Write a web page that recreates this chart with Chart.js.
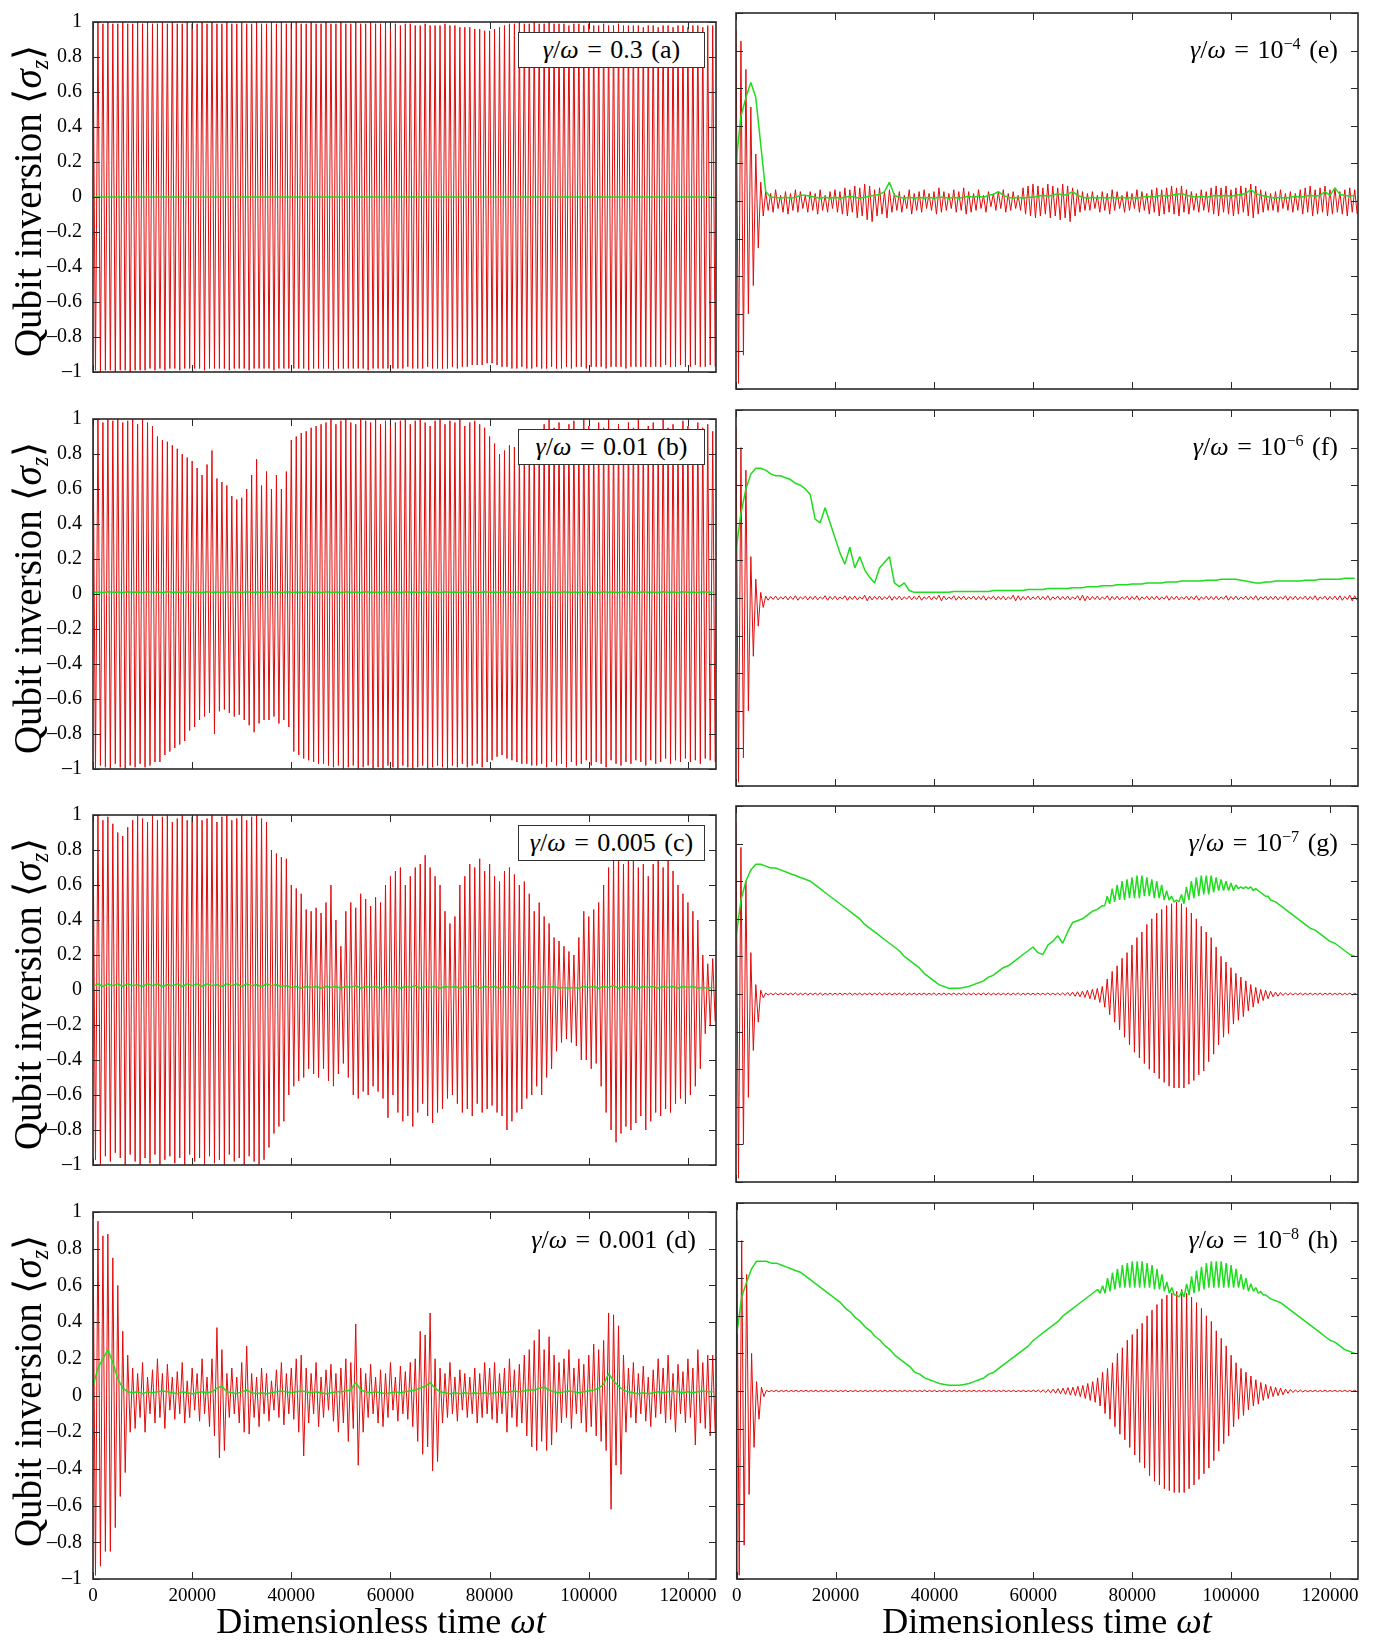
<!DOCTYPE html>
<html><head><meta charset="utf-8">
<script src="https://cdn.jsdelivr.net/npm/chart.js@4.4.1/dist/chart.umd.min.js"></script>
<style>
html,body{margin:0;padding:0;background:#fff;}
body{width:1392px;height:1641px;position:relative;overflow:hidden;font-family:"Liberation Serif","Times New Roman",serif;color:#000;}
canvas{position:absolute;}
.ytitle{position:absolute;width:420px;height:46px;line-height:46px;text-align:center;font-size:39px;white-space:nowrap;transform:rotate(-90deg);}
.xtitle{position:absolute;width:600px;height:36px;line-height:36px;text-align:center;font-size:36px;white-space:nowrap;}
.ann{position:absolute;height:30px;line-height:30px;font-size:26px;white-space:nowrap;text-align:right;word-spacing:2px;}
.box{position:absolute;background:#fff;border:1.5px solid #333;box-sizing:border-box;display:flex;align-items:center;justify-content:center;font-size:26px;white-space:nowrap;word-spacing:2px;}
sub{font-size:0.62em;vertical-align:-0.28em;}
sup{font-size:0.62em;vertical-align:0.55em;line-height:0;}
</style></head><body>
<script>
// ---------------- data ----------------
const xMax = 125664;            // end of the time axis (ωt)
const timeStep = 1000;          // spacing of the sampled envelope values
const xTickValues = [0,20000,40000,60000,80000,100000,120000];
const yTickValues = [-1,-0.8,-0.6,-0.4,-0.2,0,0.2,0.4,0.6,0.8,1];
const panelLetters = ['a','b','c','d','e','f','g','h'];
const leftGammas = ['0.3','0.01','0.005','0.001'];
const rightExponents = ['−4','−6','−7','−8'];

// red trace: upper / lower excursion of the fast oscillation in each 1000-unit slot
const a_redHi = [0.99,1,0.99,1,0.99,0.99,1,0.99,0.99,1,
0.99,1,0.99,0.99,1,0.99,1,0.99,0.99,1,
0.99,0.99,1,0.99,1,0.99,0.99,1,0.99,0.99,
1,0.99,0.99,1,0.99,0.99,1,0.99,1,0.99,
0.99,1,0.99,0.99,1,0.99,0.99,1,0.99,0.99,
1,0.99,0.99,1,0.99,0.99,1,0.99,0.99,1,
0.99,0.99,0.98,0.99,0.99,0.98,0.98,0.99,0.98,0.98,
0.98,0.99,0.98,0.98,0.97,0.97,0.97,0.96,0.96,0.95,
0.95,0.96,0.97,0.98,0.99,0.99,1,0.99,0.99,1,
0.99,0.99,1,0.99,0.99,0.99,0.98,0.99,0.99,0.98,
0.99,0.98,0.98,0.99,0.98,0.98,0.99,0.98,0.98,0.98,
0.98,0.97,0.98,0.98,0.97,0.98,0.98,0.97,0.98,0.98,
0.97,0.98,0.98,0.97,0.98,0.98];
const a_redLo = [-0.99,-1,-0.99,-0.99,-1,-0.99,-0.99,-1,-0.99,-0.99,
-0.99,-0.98,-0.99,-0.98,-0.99,-0.98,-0.98,-0.99,-0.98,-0.98,
-0.98,-0.98,-0.99,-0.98,-0.98,-0.98,-0.98,-0.99,-0.98,-0.98,
-0.98,-0.99,-0.98,-0.98,-0.98,-0.98,-0.99,-0.98,-0.98,-0.98,
-0.98,-0.98,-0.98,-0.99,-0.98,-0.98,-0.98,-0.98,-0.99,-0.98,
-0.98,-0.98,-0.98,-0.98,-0.98,-0.99,-0.98,-0.98,-0.98,-0.98,
-0.98,-0.98,-0.98,-0.97,-0.98,-0.98,-0.98,-0.97,-0.98,-0.98,
-0.98,-0.98,-0.97,-0.98,-0.97,-0.97,-0.96,-0.96,-0.96,-0.95,
-0.95,-0.96,-0.97,-0.97,-0.98,-0.98,-0.97,-0.98,-0.98,-0.97,
-0.98,-0.98,-0.97,-0.98,-0.98,-0.97,-0.98,-0.97,-0.97,-0.98,
-0.97,-0.97,-0.97,-0.98,-0.97,-0.97,-0.97,-0.98,-0.97,-0.97,
-0.97,-0.97,-0.97,-0.97,-0.97,-0.96,-0.97,-0.97,-0.96,-0.97,
-0.97,-0.96,-0.97,-0.97,-0.96,-0.97];
const a_green = [0,0,0,0,0,0,0,0,0,0,
0,0,0,0,0,0,0,0,0,0,
0,0,0,0,0,0,0,0,0,0,
0,0,0,0,0,0,0,0,0,0,
0,0,0,0,0,0,0,0,0,0,
0,0,0,0,0,0,0,0,0,0,
0,0,0,0,0,0,0,0,0,0,
0,0,0,0,0,0,0,0,0,0,
0,0,0,0,0,0,0,0,0,0,
0,0,0,0,0,0,0,0,0,0,
0,0,0,0,0,0,0,0,0,0,
0,0,0,0,0,0,0,0,0,0,
0,0,0,0,0,0];

const b_redHi = [0.99,1,0.98,1,0.99,1,0.98,0.99,1,0.97,
1,0.98,0.96,0.9,0.88,0.87,0.85,0.83,0.8,0.78,
0.76,0.72,0.68,0.74,0.82,0.66,0.64,0.62,0.56,0.54,
0.55,0.6,0.68,0.77,0.62,0.7,0.6,0.68,0.6,0.7,
0.88,0.9,0.92,0.93,0.95,0.96,0.97,0.98,1,0.97,
0.99,1,0.98,0.97,1,0.99,0.98,1,0.97,0.99,
1,0.98,0.99,1,0.97,0.99,1,0.98,0.96,0.99,
1,0.97,0.99,0.98,1,0.96,0.98,0.99,0.97,0.95,
0.9,0.86,0.8,0.82,0.85,0.84,0.86,0.88,0.9,0.92,
0.94,0.97,1,0.95,0.98,0.93,0.97,0.99,0.94,1,
0.96,0.93,0.98,0.95,1,0.94,0.97,0.92,0.98,0.95,
1,0.93,0.96,0.98,0.94,1,0.95,0.97,0.93,0.99,
0.96,0.94,0.98,0.95,0.97,0.93];
const b_redLo = [-1,-0.98,-0.99,-1,-0.97,-0.99,-1,-0.98,-0.99,-0.97,
-0.99,-0.98,-0.96,-0.96,-0.92,-0.9,-0.88,-0.86,-0.84,-0.78,
-0.76,-0.72,-0.7,-0.68,-0.8,-0.67,-0.66,-0.68,-0.7,-0.69,
-0.72,-0.75,-0.79,-0.74,-0.72,-0.72,-0.7,-0.74,-0.72,-0.76,
-0.9,-0.92,-0.94,-0.95,-0.96,-0.97,-0.97,-0.98,-0.99,-0.98,
-1,-0.99,-0.98,-1,-0.99,-0.98,-1,-0.99,-1,-0.98,
-0.99,-1,-0.98,-0.99,-1,-0.99,-0.98,-1,-0.99,-0.98,
-0.99,-1,-0.98,-0.99,-0.97,-0.99,-0.98,-0.97,-0.99,-0.96,
-0.95,-0.93,-0.92,-0.94,-0.95,-0.96,-0.97,-0.97,-0.98,-0.98,
-0.97,-0.99,-0.96,-0.98,-0.97,-0.99,-0.96,-0.98,-0.97,-0.95,
-0.98,-0.96,-0.97,-0.99,-0.95,-0.97,-0.98,-0.96,-0.97,-0.95,
-0.96,-0.98,-0.95,-0.97,-0.96,-0.94,-0.97,-0.95,-0.96,-0.94,
-0.96,-0.95,-0.97,-0.94,-0.95,-0.96];
const b_green = [0.01,0.012,0.009,0.013,0.01,0.012,0.009,0.013,0.01,0.012,
0.009,0.013,0.01,0.012,0.009,0.013,0.01,0.012,0.009,0.013,
0.01,0.012,0.009,0.013,0.01,0.012,0.009,0.013,0.01,0.012,
0.009,0.013,0.01,0.012,0.009,0.013,0.01,0.012,0.009,0.013,
0.01,0.012,0.009,0.013,0.01,0.012,0.009,0.013,0.01,0.012,
0.009,0.013,0.01,0.012,0.009,0.013,0.01,0.012,0.009,0.013,
0.01,0.012,0.009,0.013,0.01,0.012,0.009,0.013,0.01,0.012,
0.009,0.013,0.01,0.012,0.009,0.013,0.01,0.012,0.009,0.013,
0.01,0.012,0.009,0.013,0.01,0.012,0.009,0.013,0.01,0.012,
0.009,0.013,0.01,0.012,0.009,0.013,0.01,0.012,0.009,0.013,
0.01,0.012,0.009,0.013,0.01,0.012,0.009,0.013,0.01,0.012,
0.009,0.013,0.01,0.012,0.009,0.013,0.01,0.012,0.009,0.013,
0.01,0.012,0.009,0.013,0.01,0.012];

const c_redHi = [0.98,1,0.97,0.99,0.95,0.9,0.88,0.93,0.97,1,
0.98,0.96,1,0.97,0.99,1,0.96,0.98,1,0.97,
0.99,1,0.97,0.98,1,0.96,0.99,1,0.97,0.98,
1,0.97,0.99,1,0.98,0.96,0.8,0.78,0.76,0.75,
0.6,0.58,0.55,0.46,0.45,0.47,0.44,0.5,0.6,0.4,
0.25,0.45,0.5,0.47,0.55,0.52,0.48,0.53,0.5,0.6,
0.65,0.68,0.7,0.6,0.65,0.7,0.72,0.77,0.7,0.65,
0.6,0.45,0.38,0.42,0.6,0.65,0.72,0.7,0.75,0.68,
0.72,0.65,0.62,0.68,0.7,0.66,0.6,0.62,0.55,0.45,
0.5,0.42,0.38,0.3,0.28,0.25,0.22,0.2,0.3,0.45,
0.42,0.46,0.5,0.6,0.7,0.75,0.78,0.72,0.8,0.75,
0.7,0.72,0.65,0.72,0.76,0.7,0.75,0.68,0.6,0.55,
0.5,0.45,0.4,0.2,0.15,0.18];
const c_redLo = [-0.97,-1,-0.95,-0.98,-0.93,-0.96,-1,-0.94,-0.98,-1,
-0.96,-0.99,-0.94,-1,-0.97,-0.95,-0.99,-0.96,-1,-0.94,
-0.98,-0.96,-1,-0.95,-0.99,-0.97,-1,-0.94,-0.98,-0.96,
-1,-0.95,-0.98,-1,-0.97,-0.9,-0.82,-0.78,-0.75,-0.6,
-0.55,-0.52,-0.5,-0.45,-0.48,-0.5,-0.45,-0.52,-0.55,-0.48,
-0.42,-0.5,-0.6,-0.62,-0.58,-0.6,-0.55,-0.58,-0.62,-0.73,
-0.6,-0.7,-0.75,-0.72,-0.78,-0.7,-0.65,-0.72,-0.76,-0.7,
-0.68,-0.62,-0.6,-0.65,-0.7,-0.68,-0.72,-0.65,-0.7,-0.68,
-0.66,-0.7,-0.72,-0.8,-0.75,-0.7,-0.68,-0.62,-0.6,-0.55,
-0.6,-0.5,-0.45,-0.35,-0.3,-0.28,-0.3,-0.32,-0.4,-0.4,
-0.45,-0.42,-0.55,-0.7,-0.8,-0.87,-0.82,-0.78,-0.8,-0.76,
-0.72,-0.8,-0.75,-0.7,-0.72,-0.68,-0.7,-0.65,-0.62,-0.65,
-0.6,-0.55,-0.45,-0.25,-0.2,-0.18];
const c_green = [0.02,0.035,0.02,0.035,0.025,0.035,0.02,0.035,0.025,0.03,
0.02,0.035,0.025,0.035,0.02,0.03,0.025,0.035,0.02,0.035,
0.025,0.035,0.02,0.035,0.025,0.03,0.02,0.035,0.025,0.035,
0.02,0.035,0.025,0.03,0.02,0.035,0.025,0.03,0.02,0.025,
0.015,0.02,0.01,0.02,0.015,0.02,0.01,0.02,0.015,0.02,
0.01,0.02,0.015,0.025,0.01,0.02,0.015,0.02,0.01,0.02,
0.015,0.02,0.01,0.02,0.015,0.025,0.01,0.02,0.015,0.02,
0.01,0.02,0.015,0.02,0.01,0.02,0.015,0.025,0.01,0.02,
0.015,0.02,0.01,0.02,0.015,0.02,0.01,0.02,0.015,0.02,
0.01,0.02,0.015,0.02,0.01,0.015,0.01,0.015,0.01,0.02,
0.015,0.02,0.01,0.02,0.015,0.025,0.01,0.02,0.015,0.02,
0.01,0.02,0.015,0.02,0.01,0.02,0.015,0.02,0.01,0.02,
0.015,0.02,0.01,0.015,0.01,0.015];

const d_redHi = [0.95,0.95,0.87,0.88,0.75,0.6,0.35,0.22,0.15,0.12,
0.18,0.1,0.14,0.2,0.12,0.17,0.1,0.13,0.18,0.08,
0.15,0.12,0.2,0.1,0.2,0.37,0.25,0.12,0.15,0.1,
0.18,0.27,0.12,0.1,0.15,0.12,0.08,0.14,0.18,0.12,
0.15,0.2,0.22,0.15,0.12,0.18,0.1,0.14,0.17,0.12,
0.15,0.2,0.18,0.39,0.15,0.12,0.17,0.1,0.14,0.12,
0.18,0.1,0.16,0.13,0.18,0.2,0.35,0.33,0.45,0.2,
0.15,0.12,0.18,0.1,0.14,0.12,0.1,0.15,0.12,0.18,
0.15,0.18,0.12,0.15,0.2,0.14,0.17,0.22,0.25,0.3,
0.36,0.25,0.32,0.22,0.18,0.2,0.25,0.15,0.2,0.17,
0.22,0.28,0.25,0.3,0.45,0.44,0.38,0.22,0.15,0.18,
0.12,0.16,0.1,0.14,0.2,0.15,0.22,0.12,0.17,0.13,
0.2,0.15,0.25,0.18,0.22,0.22];
const d_redLo = [-0.98,-0.93,-0.85,-0.85,-0.72,-0.55,-0.42,-0.2,-0.18,-0.12,
-0.2,-0.1,-0.15,-0.12,-0.18,-0.08,-0.13,-0.1,-0.15,-0.12,
-0.08,-0.14,-0.1,-0.17,-0.22,-0.34,-0.3,-0.12,-0.1,-0.15,
-0.2,-0.21,-0.12,-0.17,-0.1,-0.14,-0.08,-0.12,-0.16,-0.1,
-0.13,-0.2,-0.33,-0.15,-0.1,-0.17,-0.12,-0.08,-0.14,-0.2,
-0.15,-0.25,-0.18,-0.38,-0.2,-0.12,-0.1,-0.15,-0.17,-0.12,
-0.08,-0.14,-0.1,-0.13,-0.17,-0.25,-0.32,-0.28,-0.41,-0.36,
-0.15,-0.12,-0.1,-0.14,-0.08,-0.12,-0.1,-0.15,-0.12,-0.1,
-0.13,-0.15,-0.1,-0.2,-0.12,-0.17,-0.15,-0.22,-0.28,-0.3,
-0.25,-0.3,-0.27,-0.2,-0.15,-0.12,-0.18,-0.1,-0.15,-0.2,
-0.17,-0.22,-0.25,-0.3,-0.62,-0.38,-0.43,-0.2,-0.12,-0.15,
-0.1,-0.14,-0.17,-0.12,-0.1,-0.15,-0.13,-0.2,-0.1,-0.15,
-0.12,-0.27,-0.15,-0.18,-0.22,-0.2];
const d_green = [0.05,0.15,0.2,0.25,0.18,0.09,0.04,0.02,0.015,0.02,
0.01,0.02,0.015,0.02,0.025,0.02,0.015,0.01,0.02,0.015,
0.01,0.015,0.02,0.015,0.02,0.04,0.05,0.02,0.015,0.01,
0.02,0.03,0.015,0.01,0.015,0.01,0.015,0.02,0.025,0.02,
0.015,0.02,0.025,0.02,0.015,0.02,0.015,0.01,0.015,0.02,
0.02,0.025,0.03,0.07,0.03,0.02,0.015,0.02,0.015,0.01,
0.015,0.02,0.015,0.02,0.025,0.03,0.04,0.05,0.07,0.04,
0.02,0.015,0.01,0.015,0.01,0.015,0.01,0.015,0.01,0.015,
0.01,0.015,0.02,0.015,0.02,0.025,0.02,0.025,0.03,0.03,
0.04,0.045,0.03,0.02,0.015,0.02,0.025,0.02,0.015,0.02,
0.025,0.03,0.04,0.06,0.12,0.08,0.05,0.03,0.02,0.015,
0.01,0.015,0.01,0.015,0.02,0.015,0.02,0.025,0.02,0.015,
0.02,0.015,0.02,0.025,0.02,0.02];

const e_redHi = [0.91,0.85,0.7,0.5,0.25,0.1,0.05,0.04,0.06,0.03,
0.05,0.04,0.06,0.05,0.03,0.05,0.04,0.06,0.03,0.05,
0.06,0.05,0.07,0.06,0.08,0.07,0.09,0.08,0.06,0.07,
0.05,0.06,0.04,0.05,0.03,0.06,0.04,0.05,0.06,0.04,
0.05,0.07,0.05,0.04,0.06,0.05,0.07,0.05,0.04,0.06,
0.03,0.05,0.04,0.05,0.06,0.04,0.05,0.03,0.07,0.08,
0.09,0.08,0.07,0.09,0.08,0.07,0.09,0.08,0.07,0.06,
0.05,0.04,0.05,0.03,0.05,0.04,0.06,0.05,0.03,0.05,
0.04,0.06,0.05,0.04,0.06,0.07,0.06,0.07,0.08,0.07,
0.08,0.06,0.05,0.04,0.06,0.05,0.07,0.08,0.07,0.08,
0.06,0.07,0.08,0.07,0.09,0.08,0.06,0.05,0.04,0.05,
0.06,0.04,0.05,0.04,0.06,0.07,0.08,0.06,0.07,0.08,
0.06,0.07,0.05,0.06,0.07,0.06];
const e_redLo = [-0.97,-0.82,-0.6,-0.45,-0.25,-0.08,-0.05,-0.06,-0.04,-0.06,
-0.07,-0.05,-0.06,-0.04,-0.06,-0.05,-0.07,-0.05,-0.06,-0.04,
-0.06,-0.07,-0.08,-0.06,-0.09,-0.08,-0.1,-0.11,-0.08,-0.07,
-0.09,-0.06,-0.05,-0.06,-0.04,-0.07,-0.05,-0.06,-0.04,-0.05,
-0.07,-0.06,-0.05,-0.04,-0.06,-0.05,-0.07,-0.06,-0.05,-0.04,
-0.06,-0.03,-0.05,-0.04,-0.06,-0.05,-0.04,-0.05,-0.07,-0.08,
-0.09,-0.08,-0.07,-0.09,-0.08,-0.1,-0.09,-0.11,-0.08,-0.06,
-0.05,-0.05,-0.04,-0.06,-0.05,-0.07,-0.05,-0.04,-0.06,-0.05,
-0.04,-0.06,-0.05,-0.07,-0.06,-0.08,-0.07,-0.06,-0.07,-0.08,
-0.06,-0.07,-0.05,-0.06,-0.05,-0.06,-0.07,-0.08,-0.06,-0.07,
-0.08,-0.07,-0.06,-0.08,-0.09,-0.07,-0.06,-0.05,-0.05,-0.06,
-0.04,-0.05,-0.06,-0.05,-0.07,-0.06,-0.08,-0.07,-0.06,-0.08,
-0.07,-0.06,-0.07,-0.08,-0.06,-0.07];
const e_green = [0.2,0.45,0.55,0.63,0.55,0.3,0.05,0.02,0.02,0.015,
0.02,0.015,0.02,0.03,0.03,0.025,0.02,0.015,0.02,0.015,
0.02,0.015,0.02,0.025,0.02,0.015,0.02,0.025,0.03,0.035,
0.05,0.1,0.03,0.02,0.015,0.02,0.015,0.02,0.015,0.02,
0.015,0.02,0.02,0.015,0.02,0.015,0.02,0.025,0.02,0.025,
0.02,0.03,0.035,0.05,0.03,0.02,0.015,0.02,0.015,0.02,
0.02,0.025,0.03,0.025,0.03,0.04,0.03,0.035,0.05,0.03,
0.02,0.015,0.02,0.015,0.02,0.015,0.02,0.015,0.02,0.015,
0.02,0.015,0.02,0.025,0.02,0.025,0.03,0.025,0.03,0.035,
0.04,0.03,0.025,0.02,0.025,0.02,0.025,0.03,0.025,0.03,
0.025,0.03,0.035,0.04,0.06,0.04,0.03,0.025,0.02,0.015,
0.02,0.015,0.02,0.025,0.02,0.025,0.03,0.025,0.03,0.05,
0.03,0.07,0.035,0.03,0.025,0.03];

const f_redHi = [0.91,0.8,0.68,0.22,0.1,0.03,0.01,0.008,0.01,0.006,
0.01,0.008,0.012,0.006,0.01,0.008,0.01,0.006,0.012,0.008,
0.01,0.006,0.012,0.008,0.01,0.006,0.015,0.01,0.008,0.01,
0.006,0.012,0.008,0.01,0.006,0.01,0.008,0.012,0.006,0.01,
0.008,0.015,0.01,0.006,0.012,0.008,0.01,0.006,0.01,0.008,
0.012,0.006,0.01,0.008,0.01,0.006,0.015,0.012,0.008,0.01,
0.006,0.01,0.008,0.012,0.006,0.01,0.008,0.01,0.006,0.012,
0.015,0.01,0.008,0.01,0.006,0.012,0.008,0.01,0.006,0.01,
0.008,0.012,0.006,0.01,0.008,0.01,0.006,0.012,0.008,0.01,
0.006,0.01,0.008,0.012,0.006,0.01,0.008,0.01,0.006,0.012,
0.008,0.01,0.006,0.01,0.008,0.012,0.006,0.01,0.008,0.01,
0.006,0.012,0.008,0.01,0.006,0.01,0.008,0.012,0.006,0.01,
0.008,0.01,0.012,0.008,0.015,0.012];
const f_redLo = [-0.98,-0.85,-0.6,-0.31,-0.15,-0.05,-0.012,-0.008,-0.01,-0.006,
-0.01,-0.008,-0.012,-0.006,-0.01,-0.008,-0.01,-0.006,-0.012,-0.008,
-0.01,-0.006,-0.012,-0.008,-0.01,-0.006,-0.015,-0.01,-0.008,-0.01,
-0.006,-0.012,-0.008,-0.01,-0.006,-0.01,-0.008,-0.012,-0.006,-0.01,
-0.008,-0.015,-0.01,-0.006,-0.012,-0.008,-0.01,-0.006,-0.01,-0.008,
-0.012,-0.006,-0.01,-0.008,-0.01,-0.006,-0.015,-0.012,-0.008,-0.01,
-0.006,-0.01,-0.008,-0.012,-0.006,-0.01,-0.008,-0.01,-0.006,-0.012,
-0.015,-0.01,-0.008,-0.01,-0.006,-0.012,-0.008,-0.01,-0.006,-0.01,
-0.008,-0.012,-0.006,-0.01,-0.008,-0.01,-0.006,-0.012,-0.008,-0.01,
-0.006,-0.01,-0.008,-0.012,-0.006,-0.01,-0.008,-0.01,-0.006,-0.012,
-0.008,-0.01,-0.006,-0.01,-0.008,-0.012,-0.006,-0.01,-0.008,-0.01,
-0.006,-0.012,-0.008,-0.01,-0.006,-0.01,-0.008,-0.012,-0.006,-0.01,
-0.008,-0.01,-0.012,-0.008,-0.015,-0.012];
const f_green = [0.25,0.45,0.58,0.66,0.69,0.69,0.68,0.66,0.65,0.65,
0.64,0.63,0.61,0.6,0.58,0.55,0.42,0.4,0.48,0.4,
0.32,0.24,0.18,0.27,0.16,0.22,0.15,0.11,0.08,0.16,
0.19,0.22,0.08,0.06,0.08,0.04,0.03,0.03,0.03,0.03,
0.03,0.03,0.03,0.03,0.035,0.035,0.035,0.035,0.035,0.035,
0.035,0.035,0.04,0.04,0.04,0.04,0.04,0.04,0.04,0.045,
0.045,0.045,0.045,0.05,0.05,0.05,0.05,0.05,0.055,0.055,
0.055,0.06,0.06,0.06,0.065,0.065,0.065,0.07,0.07,0.07,
0.075,0.075,0.075,0.08,0.08,0.08,0.08,0.085,0.085,0.085,
0.09,0.09,0.09,0.09,0.09,0.095,0.095,0.095,0.1,0.1,
0.1,0.1,0.095,0.09,0.085,0.08,0.08,0.085,0.085,0.09,
0.09,0.09,0.09,0.09,0.09,0.095,0.095,0.095,0.1,0.1,
0.1,0.1,0.1,0.105,0.105,0.105];

const g_redHi = [0.91,0.78,0.6,0.22,0.05,0.02,0.005,0.004,0.005,0.004,
0.005,0.004,0.006,0.004,0.005,0.004,0.005,0.006,0.004,0.005,
0.004,0.005,0.004,0.006,0.004,0.005,0.004,0.005,0.004,0.006,
0.004,0.005,0.004,0.005,0.006,0.004,0.005,0.004,0.005,0.004,
0.006,0.004,0.005,0.004,0.005,0.004,0.006,0.004,0.005,0.004,
0.005,0.006,0.004,0.005,0.004,0.005,0.004,0.006,0.004,0.005,
0.004,0.005,0.004,0.005,0.004,0.005,0.006,0.008,0.01,0.012,
0.015,0.02,0.025,0.03,0.04,0.08,0.12,0.15,0.19,0.22,
0.26,0.3,0.33,0.37,0.4,0.43,0.45,0.47,0.48,0.49,
0.48,0.46,0.43,0.4,0.36,0.33,0.3,0.25,0.2,0.17,
0.14,0.11,0.09,0.07,0.05,0.035,0.025,0.02,0.015,0.01,
0.008,0.006,0.005,0.004,0.005,0.004,0.005,0.004,0.005,0.004,
0.005,0.004,0.005,0.004,0.005,0.004];
const g_redLo = [-0.98,-0.8,-0.55,-0.3,-0.15,-0.02,-0.005,-0.004,-0.005,-0.004,
-0.005,-0.004,-0.006,-0.004,-0.005,-0.004,-0.005,-0.006,-0.004,-0.005,
-0.004,-0.005,-0.004,-0.006,-0.004,-0.005,-0.004,-0.005,-0.004,-0.006,
-0.004,-0.005,-0.004,-0.005,-0.006,-0.004,-0.005,-0.004,-0.005,-0.004,
-0.006,-0.004,-0.005,-0.004,-0.005,-0.004,-0.006,-0.004,-0.005,-0.004,
-0.005,-0.006,-0.004,-0.005,-0.004,-0.005,-0.004,-0.006,-0.004,-0.005,
-0.004,-0.005,-0.004,-0.005,-0.004,-0.006,-0.007,-0.009,-0.012,-0.015,
-0.018,-0.025,-0.03,-0.045,-0.07,-0.11,-0.15,-0.19,-0.23,-0.27,
-0.31,-0.34,-0.37,-0.4,-0.42,-0.45,-0.47,-0.49,-0.5,-0.5,
-0.5,-0.48,-0.46,-0.43,-0.41,-0.36,-0.32,-0.27,-0.23,-0.21,
-0.16,-0.14,-0.12,-0.09,-0.07,-0.05,-0.035,-0.025,-0.015,-0.012,
-0.008,-0.006,-0.005,-0.004,-0.005,-0.004,-0.005,-0.004,-0.005,-0.004,
-0.005,-0.004,-0.005,-0.004,-0.005,-0.004];
const g_green = [0.3,0.5,0.6,0.66,0.69,0.69,0.68,0.67,0.67,0.66,
0.65,0.64,0.63,0.62,0.61,0.6,0.58,0.56,0.54,0.52,
0.5,0.48,0.46,0.44,0.42,0.4,0.37,0.35,0.33,0.31,
0.29,0.27,0.25,0.23,0.2,0.18,0.16,0.14,0.11,0.09,
0.07,0.05,0.04,0.03,0.03,0.03,0.035,0.04,0.05,0.06,
0.07,0.09,0.1,0.12,0.14,0.15,0.17,0.19,0.21,0.23,
0.25,0.22,0.21,0.26,0.28,0.31,0.27,0.33,0.38,0.39,
0.4,0.42,0.44,0.45,0.47,0.52,0.56,0.58,0.6,0.61,
0.62,0.63,0.63,0.62,0.61,0.6,0.58,0.55,0.52,0.5,
0.53,0.57,0.6,0.62,0.63,0.63,0.63,0.62,0.61,0.6,
0.59,0.58,0.57,0.57,0.57,0.56,0.54,0.52,0.5,0.49,
0.47,0.45,0.43,0.41,0.39,0.37,0.35,0.34,0.32,0.3,
0.28,0.27,0.25,0.23,0.21,0.2];
// lower edge of the green ripple band, read half a slot later (null = no ripple)
const g_greenMid = [null,null,null,null,null,null,null,null,null,null,
null,null,null,null,null,null,null,null,null,null,
null,null,null,null,null,null,null,null,null,null,
null,null,null,null,null,null,null,null,null,null,
null,null,null,null,null,null,null,null,null,null,
null,null,null,null,null,null,null,null,null,null,
null,null,null,null,null,null,null,null,null,null,
null,null,null,null,0.47,0.48,0.49,0.5,0.5,0.51,
0.51,0.51,0.52,0.52,0.51,0.51,0.5,0.5,0.49,0.49,
0.48,0.5,0.51,0.52,0.53,0.53,0.54,0.55,0.55,0.55,
0.55,0.56,0.56,0.56,0.55,0.55,0.53,0.52,null,null,
null,null,null,null,null,null,null,null,null,null,
null,null,null,null,null,null];

const h_redHi = [0.91,0.8,0.62,0.2,0.05,0.02,0.004,0.003,0.004,0.003,
0.004,0.003,0.004,0.003,0.004,0.003,0.004,0.003,0.004,0.003,
0.004,0.003,0.004,0.003,0.004,0.003,0.004,0.003,0.004,0.003,
0.004,0.003,0.004,0.003,0.004,0.003,0.004,0.003,0.004,0.003,
0.004,0.003,0.004,0.003,0.004,0.003,0.004,0.003,0.004,0.003,
0.004,0.003,0.004,0.003,0.004,0.003,0.004,0.003,0.004,0.003,
0.004,0.005,0.006,0.008,0.01,0.012,0.015,0.018,0.02,0.025,
0.03,0.04,0.05,0.07,0.1,0.12,0.15,0.2,0.23,0.27,
0.3,0.33,0.36,0.4,0.43,0.46,0.49,0.51,0.52,0.53,
0.54,0.52,0.5,0.47,0.44,0.4,0.37,0.32,0.28,0.24,
0.19,0.15,0.12,0.1,0.08,0.06,0.045,0.035,0.025,0.02,
0.015,0.01,0.008,0.006,0.005,0.004,0.003,0.004,0.003,0.004,
0.003,0.004,0.003,0.004,0.003,0.004];
const h_redLo = [-0.98,-0.82,-0.55,-0.3,-0.15,-0.03,-0.004,-0.003,-0.004,-0.003,
-0.004,-0.003,-0.004,-0.003,-0.004,-0.003,-0.004,-0.003,-0.004,-0.003,
-0.004,-0.003,-0.004,-0.003,-0.004,-0.003,-0.004,-0.003,-0.004,-0.003,
-0.004,-0.003,-0.004,-0.003,-0.004,-0.003,-0.004,-0.003,-0.004,-0.003,
-0.004,-0.003,-0.004,-0.003,-0.004,-0.003,-0.004,-0.003,-0.004,-0.003,
-0.004,-0.003,-0.004,-0.003,-0.004,-0.003,-0.004,-0.003,-0.004,-0.003,
-0.004,-0.006,-0.008,-0.01,-0.012,-0.015,-0.018,-0.022,-0.025,-0.03,
-0.04,-0.05,-0.06,-0.08,-0.12,-0.15,-0.19,-0.23,-0.26,-0.3,
-0.34,-0.38,-0.41,-0.45,-0.48,-0.5,-0.52,-0.53,-0.54,-0.54,
-0.54,-0.52,-0.5,-0.47,-0.44,-0.41,-0.37,-0.32,-0.28,-0.24,
-0.19,-0.15,-0.13,-0.1,-0.08,-0.07,-0.05,-0.04,-0.03,-0.025,
-0.02,-0.012,-0.008,-0.006,-0.005,-0.004,-0.003,-0.004,-0.003,-0.004,
-0.003,-0.004,-0.003,-0.004,-0.003,-0.004];
const h_green = [0.3,0.5,0.58,0.65,0.69,0.69,0.69,0.68,0.68,0.67,
0.66,0.65,0.64,0.63,0.61,0.59,0.57,0.55,0.53,0.51,
0.49,0.47,0.44,0.42,0.39,0.37,0.34,0.32,0.29,0.27,
0.24,0.22,0.19,0.17,0.15,0.13,0.1,0.09,0.07,0.06,
0.05,0.04,0.035,0.03,0.03,0.03,0.035,0.04,0.05,0.06,
0.07,0.09,0.1,0.12,0.14,0.16,0.18,0.2,0.22,0.24,
0.27,0.29,0.31,0.33,0.35,0.37,0.4,0.42,0.44,0.46,
0.48,0.5,0.52,0.54,0.56,0.6,0.63,0.65,0.67,0.68,
0.69,0.69,0.69,0.68,0.67,0.65,0.62,0.58,0.55,0.51,
0.53,0.57,0.61,0.64,0.66,0.68,0.69,0.69,0.69,0.68,
0.67,0.65,0.62,0.6,0.57,0.55,0.53,0.51,0.49,0.48,
0.47,0.45,0.43,0.41,0.39,0.37,0.35,0.33,0.31,0.29,
0.27,0.26,0.24,0.22,0.21,0.2];
const h_greenMid = [null,null,null,null,null,null,null,null,null,null,
null,null,null,null,null,null,null,null,null,null,
null,null,null,null,null,null,null,null,null,null,
null,null,null,null,null,null,null,null,null,null,
null,null,null,null,null,null,null,null,null,null,
null,null,null,null,null,null,null,null,null,null,
null,null,null,null,null,null,null,null,null,null,
null,null,null,0.52,0.52,0.53,0.54,0.55,0.55,0.55,
0.55,0.55,0.55,0.55,0.54,0.54,0.53,0.52,0.51,0.5,
0.5,0.51,0.52,0.53,0.54,0.55,0.55,0.55,0.55,0.55,
0.55,0.55,0.54,0.53,0.53,0.52,0.51,0.5,null,null,
null,null,null,null,null,null,null,null,null,null,
null,null,null,null,null,null];

// ---------------- layout ----------------
const COLS = [{left:93,right:716,axisW:93,padR:14,titleX:381},{left:736,right:1358,axisW:10,padR:28,titleX:1047}];
const ROWS = [{top:13,bottom:389},{top:410,bottom:786},{top:806,bottom:1182},{top:1203,bottom:1579}];
const PAD_TOP = 14;

const panels = [
  {hi:a_redHi,lo:a_redLo,avg:a_green,col:0,row:0,boxed:true},
  {hi:b_redHi,lo:b_redLo,avg:b_green,col:0,row:1,boxed:true},
  {hi:c_redHi,lo:c_redLo,avg:c_green,col:0,row:2,boxed:true},
  {hi:d_redHi,lo:d_redLo,avg:d_green,col:0,row:3,boxed:false},
  {hi:e_redHi,lo:e_redLo,avg:e_green,col:1,row:0,boxed:false},
  {hi:f_redHi,lo:f_redLo,avg:f_green,col:1,row:1,boxed:false},
  {hi:g_redHi,lo:g_redLo,avg:g_green,mid:g_greenMid,col:1,row:2,boxed:false},
  {hi:h_redHi,lo:h_redLo,avg:h_green,mid:h_greenMid,col:1,row:3,boxed:false}
];

const framePlugin = {
  id:'frame',
  afterDatasetsDraw(chart){
    const {ctx, chartArea:a, scales:{x, y}} = chart;
    ctx.save();
    ctx.strokeStyle = '#2a2a2a';
    ctx.lineWidth = 1;
    ctx.beginPath();
    for (const v of xTickValues){
      const px = Math.round(x.getPixelForValue(v)) + 0.5;
      ctx.moveTo(px, a.top); ctx.lineTo(px, a.top + 7);
      ctx.moveTo(px, a.bottom); ctx.lineTo(px, a.bottom - 7);
    }
    for (const v of yTickValues){
      const py = Math.round(y.getPixelForValue(v)) + 0.5;
      ctx.moveTo(a.left, py); ctx.lineTo(a.left + 7, py);
      ctx.moveTo(a.right, py); ctx.lineTo(a.right - 7, py);
    }
    ctx.stroke();
    ctx.lineWidth = 1.6;
    ctx.strokeRect(a.left, a.top, a.right - a.left, a.bottom - a.top);
    ctx.restore();
  }
};

function fmtY(v){
  if (v === 0) return '0';
  const s = String(Math.round(Math.abs(v) * 10) / 10);
  return (v < 0 ? '–' : '') + s;
}

panels.forEach((p, k) => {
  const c = COLS[p.col], r = ROWS[p.row];
  const showX = p.row === 3, showY = p.col === 0;
  const xh = showX ? 40 : 6;
  const cl = c.left - c.axisW;
  const cw = c.right + c.padR - cl;
  const ct = r.top - PAD_TOP;
  const ch = PAD_TOP + (r.bottom - r.top) + xh;
  const cv = document.createElement('canvas');
  cv.width = cw; cv.height = ch;
  cv.style.left = cl + 'px'; cv.style.top = ct + 'px';
  cv.style.width = cw + 'px'; cv.style.height = ch + 'px';
  document.body.appendChild(cv);

  const red = [];
  p.hi.forEach((h, i) => {
    red.push({x: i * timeStep, y: h});
    red.push({x: i * timeStep + timeStep / 2, y: p.lo[i]});
  });
  const green = [];
  p.avg.forEach((g, i) => {
    green.push({x: i * timeStep, y: g});
    if (p.mid && p.mid[i] !== null) green.push({x: i * timeStep + timeStep / 2, y: p.mid[i]});
  });

  new Chart(cv, {
    type: 'line',
    data: {datasets: [
      {data: green, borderColor: '#1fdc1f', borderWidth: 1.5, pointRadius: 0, tension: 0, order: 0, borderJoinStyle: 'bevel'},
      {data: red, borderColor: '#e20a0a', borderWidth: 1, pointRadius: 0, tension: 0, order: 1, borderJoinStyle: 'bevel'}
    ]},
    options: {
      responsive: false, animation: false, parsing: false, normalized: true,
      events: [],
      layout: {padding: {top: PAD_TOP, right: c.padR, bottom: 0, left: 0}, autoPadding: false},
      plugins: {legend: {display: false}, tooltip: {enabled: false}},
      scales: {
        x: {
          type: 'linear', min: 0, max: xMax,
          grid: {display: false, drawTicks: false}, border: {display: false},
          afterBuildTicks: s => { s.ticks = xTickValues.map(v => ({value: v})); },
          afterFit: s => { s.height = xh; },
          ticks: {display: showX, maxRotation: 0, minRotation: 0, autoSkip: false, padding: 6,
                  color: '#000', font: {family: 'Liberation Serif', size: 19},
                  callback: v => String(v)}
        },
        y: {
          type: 'linear', min: -1, max: 1,
          grid: {display: false, drawTicks: false}, border: {display: false},
          afterBuildTicks: s => { s.ticks = yTickValues.map(v => ({value: v})); },
          afterFit: s => { s.width = c.axisW; },
          ticks: {display: showY, padding: 11, color: '#000',
                  font: {family: 'Liberation Serif', size: 20},
                  callback: v => fmtY(v)}
        }
      }
    },
    plugins: [framePlugin]
  });

  // panel annotation
  const letter = panelLetters[k];
  const value = p.col === 0 ? leftGammas[p.row] : '10<sup>' + rightExponents[p.row] + '</sup>';
  const html = '<span><i>γ</i>/<i>ω</i> = ' + value + ' (' + letter + ')</span>';
  if (p.boxed){
    const b = document.createElement('div');
    b.className = 'box';
    b.style.left = (c.right - 11 - 187) + 'px';
    b.style.top = (r.top + 19) + 'px';
    b.style.width = '187px'; b.style.height = '36px';
    b.innerHTML = html;
    document.body.appendChild(b);
  } else {
    const d = document.createElement('div');
    d.className = 'ann';
    d.style.right = (1392 - (c.right - 20)) + 'px';
    d.style.top = (r.top + 37 - 15) + 'px';
    d.innerHTML = html;
    document.body.appendChild(d);
  }

  // y axis title for the left column
  if (showY){
    const t = document.createElement('div');
    t.className = 'ytitle';
    const mid = (r.top + r.bottom) / 2;
    t.style.left = (28 - 210) + 'px';
    t.style.top = (mid - 23) + 'px';
    t.innerHTML = 'Qubit inversion ⟨<i>σ</i><sub><i>z</i></sub>⟩';
    document.body.appendChild(t);
  }
  // x axis title for the bottom row
  if (showX){
    const t = document.createElement('div');
    t.className = 'xtitle';
    t.style.left = (c.titleX - 300) + 'px';
    t.style.top = '1603px';
    t.innerHTML = 'Dimensionless time <i>ωt</i>';
    document.body.appendChild(t);
  }
});
</script>
</body></html>
